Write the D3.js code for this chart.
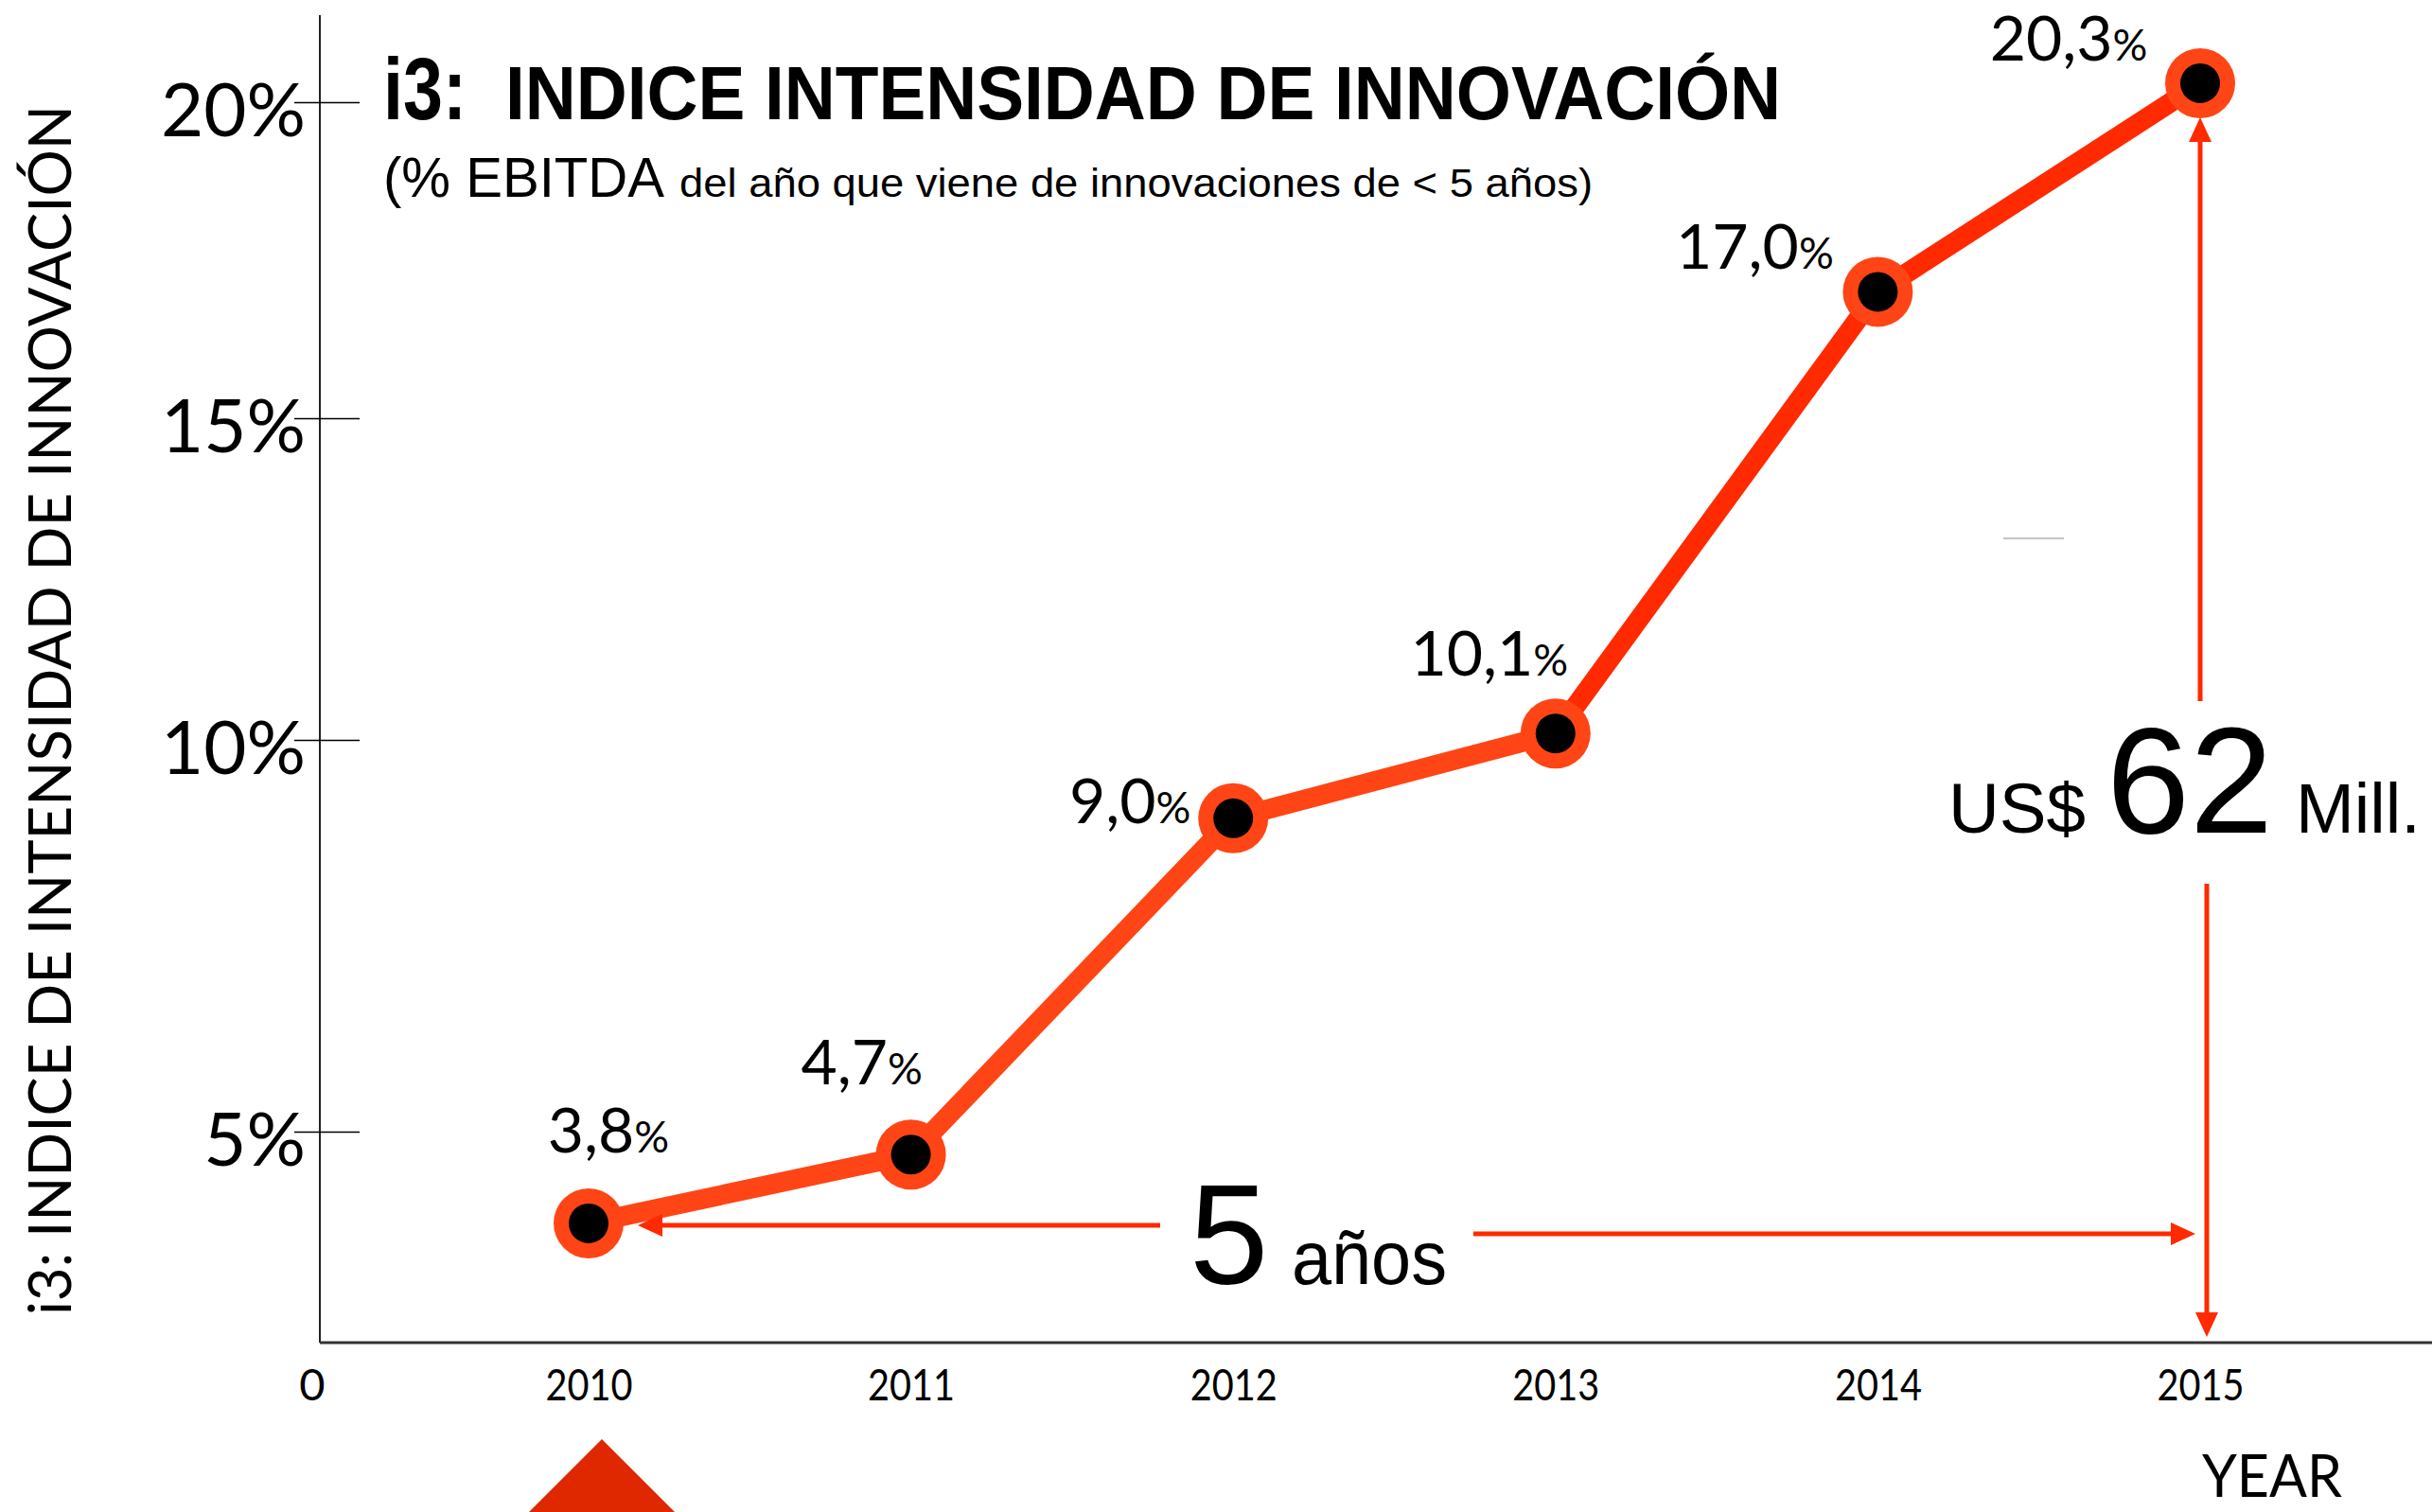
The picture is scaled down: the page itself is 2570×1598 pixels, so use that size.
<!DOCTYPE html>
<html lang="es">
<head>
<meta charset="UTF-8">
<title>i3: Indice intensidad de innovación</title>
<script src="https://cdn.jsdelivr.net/npm/d3@7"></script>
<style>
  body { margin: 0; background: #fff; }
  svg { display: block; background: #fff; }
</style>
</head>
<body>
<div id="output"></div>
<script>

// data
var years = [2010, 2011, 2012, 2013, 2014, 2015];
var values = [3.8, 4.7, 9.0, 10.1, 17.0, 20.3];
var yTicks = [5, 10, 15, 20];
var yStops = [0, 5, 10, 15, 20];

// label offsets around each point (layout only)
var labelDx = [21, -52, -109, -70, -130, -139];
var labelDy = [-75, -74, 5, -61, -24, -24];

var w = 2570, h = 1598;
var x0 = 338, y0 = 1419;

var gill = "Lato, 'Open Sans', sans-serif";
var helv = "'Liberation Sans', Arial, sans-serif";
var orange = "#ff4515";
var red = "#ff2a00";

var svg = d3.select("#output")
        .append("svg")
        .attr("width", w)
        .attr("height", h);

var xScale = d3.scaleLinear()
        .domain([2010, 2015])
        .range([622, 2325]);

// the drawn axis is not evenly spaced, so the scale goes through each tick
var yScale = d3.scaleLinear()
        .domain(yStops)
        .range([1600, 1196, 782, 442, 108]);

// axis lines
svg.append("line")
        .attr("x1", x0).attr("x2", x0)
        .attr("y1", 16).attr("y2", y0)
        .attr("stroke", "#222").attr("stroke-width", 2);
svg.append("line")
        .attr("x1", x0).attr("x2", w)
        .attr("y1", y0).attr("y2", y0)
        .attr("stroke", "#333").attr("stroke-width", 3);

var yAxis = svg.append("g")
        .attr("transform", "translate(" + x0 + ",0)")
        .call(d3.axisLeft(yScale)
            .tickValues(yTicks)
            .tickFormat(function(d){ return d + "%"; })
            .tickSize(27));
yAxis.attr("font-family", null).attr("font-size", null);
yAxis.select(".domain").remove();
yAxis.selectAll(".tick line")
        .attr("x1", 42).attr("x2", -27)
        .attr("stroke", "#000").attr("stroke-width", 1.5);
yAxis.selectAll(".tick text")
        .attr("x", -15)
        .attr("dy", "0.45em")
        .attr("fill", "#000")
        .style("font-family", gill)
        .style("font-size", "78px");

var xAxis = svg.append("g")
        .attr("transform", "translate(0," + y0 + ")")
        .call(d3.axisBottom(xScale)
            .tickValues(years)
            .tickFormat(d3.format("d"))
            .tickSize(0));
xAxis.attr("font-family", null).attr("font-size", null);
xAxis.select(".domain").remove();
xAxis.selectAll(".tick text")
        .attr("y", 61).attr("dy", 0)
        .attr("fill", "#000")
        .attr("textLength", 92)
        .attr("lengthAdjust", "spacingAndGlyphs")
        .style("font-family", gill)
        .style("font-size", "47px");

// origin label
svg.append("text")
        .attr("x", x0 - 8).attr("y", 1480)
        .attr("text-anchor", "middle")
        .style("font-family", gill).style("font-size", "47px")
        .text("0");

svg.append("text")
        .attr("x", 2327).attr("y", 1582)
        .attr("textLength", 148).attr("lengthAdjust", "spacingAndGlyphs")
        .style("font-family", gill).style("font-size", "61px")
        .text("YEAR");

// rotated axis title
svg.append("text")
        .attr("transform", "translate(75,1390) rotate(-90)")
        .attr("textLength", 1279).attr("lengthAdjust", "spacingAndGlyphs")
        .style("font-family", gill).style("font-size", "62px")
        .text("i3: INDICE DE INTENSIDAD DE INNOVACIÓN");

// title
svg.append("text")
        .attr("x", 405).attr("y", 126)
        .attr("textLength", 88).attr("lengthAdjust", "spacingAndGlyphs")
        .style("font-family", helv).style("font-weight", "bold").style("font-size", "92px")
        .text("i3:");
svg.append("text")
        .attr("x", 534).attr("y", 126)
        .attr("textLength", 1348).attr("lengthAdjust", "spacingAndGlyphs")
        .style("font-family", helv).style("font-weight", "bold").style("font-size", "80px")
        .text("INDICE INTENSIDAD DE INNOVACIÓN");
svg.append("text")
        .attr("x", 405).attr("y", 208)
        .attr("textLength", 297).attr("lengthAdjust", "spacingAndGlyphs")
        .style("font-family", helv).style("font-size", "60px")
        .text("(% EBITDA");
svg.append("text")
        .attr("x", 718).attr("y", 208)
        .attr("textLength", 965).attr("lengthAdjust", "spacingAndGlyphs")
        .style("font-family", helv).style("font-size", "42px")
        .text("del año que viene de innovaciones de < 5 años)");

// stray gray stroke in the original
svg.append("line")
        .attr("x1", 2117).attr("x2", 2181).attr("y1", 569).attr("y2", 569)
        .attr("stroke", "#c4c4c4").attr("stroke-width", 2);

// red marker under 2010
var tx = xScale(years[0]) + 14;
svg.append("path")
        .attr("d", "M" + tx + ",1521 L" + (tx + 110) + ",1631 L" + (tx - 110) + ",1631 Z")
        .attr("fill", "#e02800");

// series
var points = years.map(function(y, i){ return [xScale(y), yScale(values[i])]; });
var line = d3.line();

svg.append("g").selectAll("path")
        .data(d3.pairs(points))
        .enter()
        .append("path")
        .attr("d", function(d){ return line(d); })
        .attr("fill", "none")
        .attr("stroke", function(d, i){ return i < 3 ? orange : red; })
        .attr("stroke-width", 21);

var dots = svg.append("g").selectAll("g")
        .data(points)
        .enter()
        .append("g")
        .attr("transform", function(d){ return "translate(" + d[0] + "," + d[1] + ")"; });
dots.append("circle").attr("r", 37).attr("fill", orange);
dots.append("circle").attr("r", 21).attr("fill", "#000");

var fmt = d3.format(".1f");
var labels = svg.append("g").selectAll("text")
        .data(points)
        .enter()
        .append("text")
        .attr("x", function(d, i){ return d[0] + labelDx[i]; })
        .attr("y", function(d, i){ return d[1] + labelDy[i]; })
        .attr("text-anchor", "middle")
        .style("font-family", gill);
labels.append("tspan")
        .style("font-size", "66px")
        .text(function(d, i){ return fmt(values[i]).replace(".", ","); });
labels.append("tspan")
        .style("font-size", "46px")
        .text("%");

// annotation arrows
function arrowHead(tx, ty, dir){
    // dir: "l", "r", "u", "d"
    var L = 26, W = 12, p;
    if (dir === "l") p = [[tx, ty], [tx + L, ty - W], [tx + L, ty + W]];
    if (dir === "r") p = [[tx, ty], [tx - L, ty - W], [tx - L, ty + W]];
    if (dir === "u") p = [[tx, ty], [tx - W, ty + L], [tx + W, ty + L]];
    if (dir === "d") p = [[tx, ty], [tx - W, ty - L], [tx + W, ty - L]];
    svg.append("path").attr("d", "M" + p.join("L") + "Z").attr("fill", red);
}
function seg(x1, y1, x2, y2){
    svg.append("line")
        .attr("x1", x1).attr("y1", y1).attr("x2", x2).attr("y2", y2)
        .attr("stroke", red).attr("stroke-width", 5);
}

var p0 = points[0], p5 = points[5];
var ay = p0[1] + 2;
seg(1226, ay, p0[0] + 70, ay);
arrowHead(p0[0] + 52, ay, "l");
seg(1557, ay + 9, p5[0] - 25, ay + 9);
arrowHead(p5[0] - 5, ay + 9, "r");
seg(p5[0], 741, p5[0], p5[1] + 60);
arrowHead(p5[0], p5[1] + 36, "u");
seg(p5[0] + 7, 934, p5[0] + 7, y0 - 30);
arrowHead(p5[0] + 7, y0 - 6, "d");

// annotation texts
svg.append("text")
        .attr("x", 1257).attr("y", 1357)
        .style("font-family", helv).style("font-size", "150px")
        .text("5");
svg.append("text")
        .attr("x", 1365).attr("y", 1357)
        .attr("textLength", 164).attr("lengthAdjust", "spacingAndGlyphs")
        .style("font-family", helv).style("font-size", "80px")
        .text("años");
svg.append("text")
        .attr("x", 2059).attr("y", 880)
        .attr("textLength", 145).attr("lengthAdjust", "spacingAndGlyphs")
        .style("font-family", helv).style("font-size", "75px")
        .text("US$");
svg.append("text")
        .attr("x", 2226).attr("y", 880)
        .attr("textLength", 176).attr("lengthAdjust", "spacingAndGlyphs")
        .style("font-family", helv).style("font-size", "160px")
        .text("62");
svg.append("text")
        .attr("x", 2426).attr("y", 880)
        .attr("textLength", 132).attr("lengthAdjust", "spacingAndGlyphs")
        .style("font-family", helv).style("font-size", "75px")
        .text("Mill.");

</script>
</body>
</html>
